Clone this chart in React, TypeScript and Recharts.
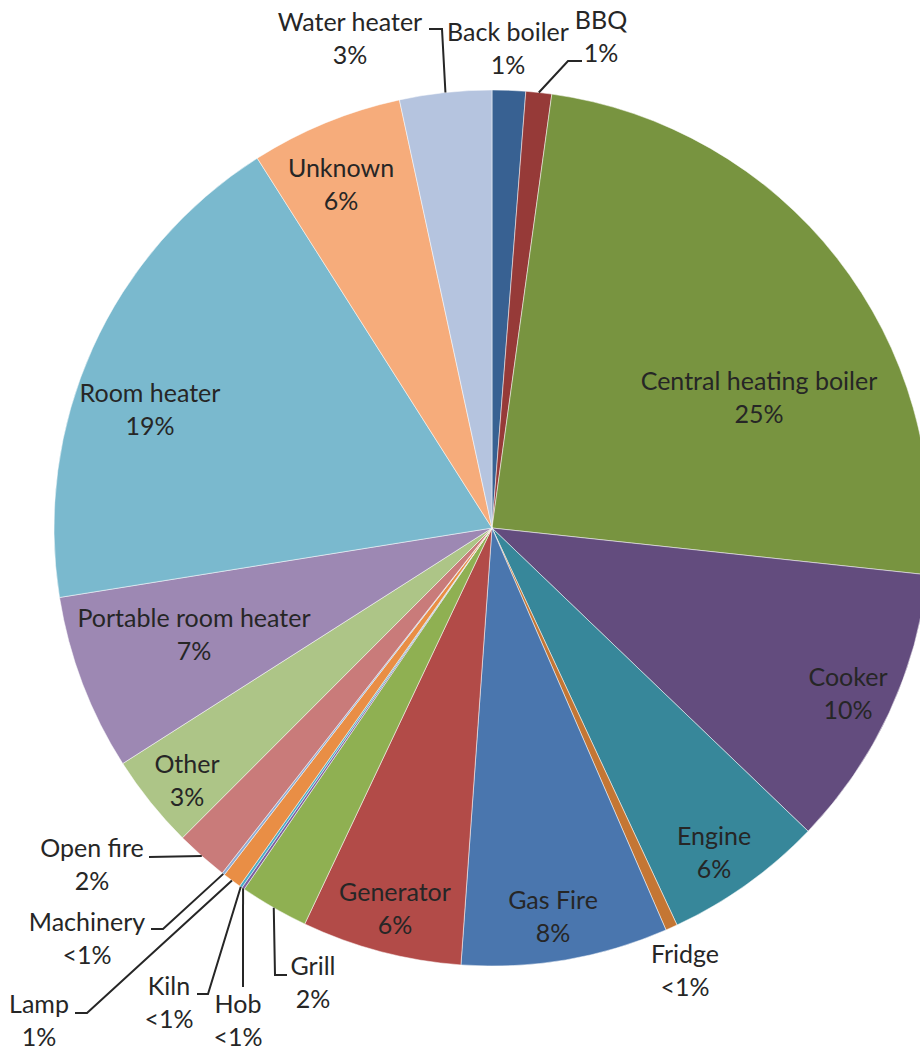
import { Pie, PieChart } from "recharts";

const CATEGORIES = [
  "Back boiler",
  "BBQ",
  "Central heating boiler",
  "Cooker",
  "Engine",
  "Fridge",
  "Gas Fire",
  "Generator",
  "Grill",
  "Hob",
  "Kiln",
  "Lamp",
  "Machinery",
  "Open fire",
  "Other",
  "Portable room heater",
  "Room heater",
  "Unknown",
  "Water heater",
];

// share of incidents, %
const SHARES = [
  1.23, 0.95, 24.52, 10.46, 5.89, 0.44, 7.63, 5.9, 2.54, 0.1, 0.1, 0.69, 0.1,
  1.93, 3.47, 6.5, 18.53, 5.61, 3.39,
];

const PCT_LABELS = [
  "1%", "1%", "25%", "10%", "6%", "<1%", "8%", "6%", "2%", "<1%", "<1%", "1%",
  "<1%", "2%", "3%", "7%", "19%", "6%", "3%",
];

const COLORS = [
  "#386192", "#963a38", "#789440", "#634c7e", "#37879a", "#c47634", "#4a76ae",
  "#b24b48", "#8fb052", "#7d5fa0", "#4aacc6", "#e98e45", "#8eacd4", "#c97b7a",
  "#adc587", "#9d88b3", "#7ab9ce", "#f6ac7b", "#b5c4df",
];

const data = CATEGORIES.map((name, i) => ({
  name,
  value: SHARES[i],
  fill: COLORS[i],
}));

// label placement relative to the pie centre (text baseline of first line),
// plus optional leader-line bends
const LABEL_SPOTS: Record<string, { dx: number; dy: number; leader?: number[][] }> = {
  "Back boiler": { dx: 16, dy: -487 },
  BBQ: { dx: 109, dy: -499, leader: [[76, -467], [90, -467]] },
  "Central heating boiler": { dx: 267, dy: -138 },
  Cooker: { dx: 356, dy: 158 },
  Engine: { dx: 222, dy: 317 },
  Fridge: { dx: 193, dy: 435 },
  "Gas Fire": { dx: 61, dy: 381 },
  Generator: { dx: -97, dy: 373 },
  Grill: { dx: -179, dy: 447, leader: [[-217, 447], [-205, 447]] },
  Hob: { dx: -254, dy: 485, leader: [[-249, 459]] },
  Kiln: { dx: -323, dy: 467, leader: [[-284, 466], [-295, 466]] },
  Lamp: { dx: -453, dy: 485, leader: [[-405, 485], [-417, 485]] },
  Machinery: { dx: -405, dy: 403, leader: [[-329, 401], [-341, 401]] },
  "Open fire": { dx: -400, dy: 329, leader: [[-343, 329]] },
  Other: { dx: -305, dy: 245 },
  "Portable room heater": { dx: -298, dy: 99 },
  "Room heater": { dx: -342, dy: -126 },
  Unknown: { dx: -151, dy: -351 },
  "Water heater": { dx: -142, dy: -497, leader: [[-50, -499], [-63, -499]] },
};

const RADIAN = Math.PI / 180;
const TEXT = "#262626";
const FONT = "Lato, 'Open Sans', sans-serif";

function SliceLabel(props: any) {
  const { cx, cy, midAngle, outerRadius, index } = props;
  const name = CATEGORIES[index];
  const spot = LABEL_SPOTS[name];
  if (!spot) return null;
  const sx = cx + outerRadius * Math.cos(-midAngle * RADIAN);
  const sy = cy + outerRadius * Math.sin(-midAngle * RADIAN);
  const pts = spot.leader
    ? [[sx, sy], ...spot.leader.map(([x, y]) => [cx + x, cy + y])]
    : null;
  const tx = cx + spot.dx;
  return (
    <g>
      {pts && (
        <polyline
          points={pts.map((p) => p.join(",")).join(" ")}
          fill="none"
          stroke={TEXT}
          strokeWidth={2}
        />
      )}
      <text
        x={tx}
        y={cy + spot.dy}
        textAnchor="middle"
        fill={TEXT}
        fontFamily={FONT}
        fontSize={25}
      >
        <tspan x={tx}>{name}</tspan>
        <tspan x={tx} dy={32.5}>
          {PCT_LABELS[index]}
        </tspan>
      </text>
    </g>
  );
}

export default function App() {
  return (
    <div style={{ position: "absolute", left: 0, top: 0, width: 920, height: 1048, background: "#fff" }}>
      <PieChart width={920} height={1048} margin={{ top: 0, right: 0, bottom: 0, left: 0 }}>
        <Pie
          data={data}
          dataKey="value"
          nameKey="name"
          cx={492}
          cy={528}
          outerRadius={438}
          startAngle={90}
          endAngle={-270}
          stroke="#ffffff"
          strokeWidth={0.5}
          label={SliceLabel}
          labelLine={false}
          isAnimationActive={false}
        />
      </PieChart>
    </div>
  );
}
